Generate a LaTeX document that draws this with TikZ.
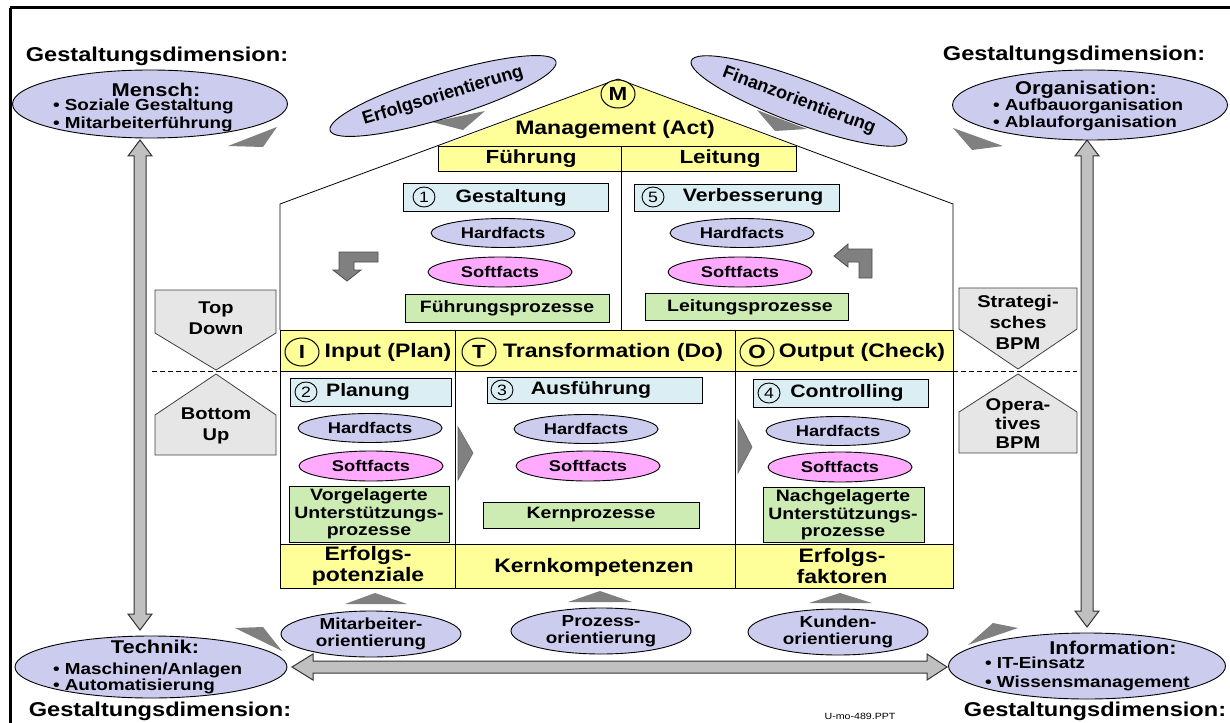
\documentclass[tikz,border=0pt]{standalone}
\usepackage{fontspec}
\setmainfont{Liberation Sans}[FakeStretch=1.18]
\newfontfamily\rotfont{Liberation Sans}
\usetikzlibrary{shapes.geometric}
\definecolor{lavc}{RGB}{204,204,238}
\definecolor{pinkc}{RGB}{255,170,255}
\definecolor{bluec}{RGB}{219,238,243}
\definecolor{greenc}{RGB}{204,236,180}
\definecolor{yellowc}{RGB}{255,255,153}
\definecolor{hourc}{RGB}{230,230,230}
\definecolor{arrg}{RGB}{192,192,192}
\definecolor{darkg}{RGB}{128,128,128}
\newcommand\fsz[2]{\fontsize{#1}{#2}\selectfont\bfseries}
\begin{document}
\begin{tikzpicture}[x=1pt,y=-1pt,
  every node/.style={inner sep=0pt,outer sep=0pt},
  lavell/.style={ellipse,draw=black,line width=0.9pt,fill=lavc},
  hard/.style={lavell,minimum width=144,minimum height=29,font=\fsz{15.5}{17}},
  soft/.style={ellipse,draw=black,line width=0.9pt,fill=pinkc,minimum width=144,minimum height=30,font=\fsz{15.5}{17}},
  numbox/.style={draw=black,line width=1pt,fill=bluec,anchor=north west},
  numtext/.style={font=\fsz{18}{20}},
  numc/.style={ellipse,draw=black,line width=0.9pt,minimum width=22,minimum height=20,font=\fontsize{15}{15}\selectfont},
  procbox/.style={draw=black,line width=1pt,fill=greenc,anchor=north west},
  proctext/.style={font=\fsz{16.5}{17.5},align=center},
  ipoc/.style={ellipse,draw=black,line width=1pt,fill=yellowc,minimum width=34,minimum height=28,font=\fsz{19}{20}},
  bandtext/.style={font=\fsz{19.5}{20.5},align=center},
  tri/.style={fill=darkg},
  dimtitle/.style={font=\fsz{20}{22}},
  dimhead/.style={font=\fsz{18.5}{20}},
  dimitem/.style={font=\fsz{16}{18}},
  hour/.style={fill=hourc,draw=black!75,line width=0.8pt},
  hourtext/.style={font=\fsz{17}{21},align=center},
  blockarrow/.style={fill=arrg,draw=black!80,line width=1pt},
  lshape/.style={fill=darkg,draw=black!70,line width=0.8pt},
  orient/.style={lavell,minimum width=180,minimum height=46,font=\fsz{16}{17},align=center},
  rotell/.style={lavell,minimum width=232,minimum height=44,font=\rotfont\fontsize{18}{19}\selectfont\bfseries}
]
\useasboundingbox (0,0) rectangle (1230,722);
\fill[white] (0,0) rectangle (1230,722);
\draw[line width=3pt] (10,8) -- (1240,8);
\draw[line width=3pt] (10,8) -- (10,740);

% ---------- block double arrows ----------
\filldraw[blockarrow] (140,140) -- (152,156) -- (146,156) -- (146,614) -- (152,614) -- (140,630)
  -- (128,614) -- (134,614) -- (134,156) -- (128,156) -- cycle;
\filldraw[blockarrow] (1087,140) -- (1099,156) -- (1093,156) -- (1093,611) -- (1099,611) -- (1087,627)
  -- (1075,611) -- (1081,611) -- (1081,156) -- (1075,156) -- cycle;
\filldraw[blockarrow] (292,667) -- (313,654) -- (313,661) -- (927,661) -- (927,654) -- (947,667)
  -- (927,680) -- (927,673) -- (313,673) -- (313,680) -- cycle;

% ---------- dimension titles ----------
\node[dimtitle] (gd1) at (157,56) {Gestaltungsdimension:};
\node[dimtitle] (gd2) at (1074,55) {Gestaltungsdimension:};
\node[dimtitle] (gd3) at (160,711) {Gestaltungsdimension:};
\node[dimtitle] (gd4) at (1095,711) {Gestaltungsdimension:};

% ---------- dimension ellipses ----------
\node[lavell,minimum width=275,minimum height=68] (mensch) at (150,104) {};
\node[dimhead] (menscht) at (156,90) {Mensch:};
\node[dimitem,anchor=base west] (mensch1) at (53,111) {• Soziale Gestaltung};
\node[dimitem,anchor=base west] (mensch2) at (53,129) {• Mitarbeiterführung};

\node[lavell,minimum width=275,minimum height=70] (orga) at (1090,105) {};
\node[dimhead] (orgat) at (1086,90) {Organisation:};
\node[dimitem,anchor=base west] (orga1) at (993,111) {• Aufbauorganisation};
\node[dimitem,anchor=base west] (orga2) at (993,128) {• Ablauforganisation};

\node[lavell,minimum width=272,minimum height=62] (technik) at (151,667) {};
\node[dimhead] (techt) at (155,647) {Technik:};
\node[dimitem,anchor=base west] (tech1) at (53,674) {• Maschinen/Anlagen};
\node[dimitem,anchor=base west] (tech2) at (53,690) {• Automatisierung};

\node[lavell,minimum width=277,minimum height=66] (info) at (1087,666) {};
\node[dimhead] (infot) at (1113,648) {Information:};
\node[dimitem,anchor=base west] (info1) at (985,668) {• IT-Einsatz};
\node[dimitem,anchor=base west] (info2) at (985,687) {• Wissensmanagement};

% ---------- small dark wedges ----------
\fill[tri] (228,146) -- (277,127) -- (263,147) -- cycle;
\fill[tri] (953,128) -- (1003,146) -- (972,150) -- cycle;
\fill[tri] (235,628) -- (263,627) -- (282,651) -- cycle;
\fill[tri] (968,645) -- (993,623) -- (1018,628) -- cycle;
\fill[tri] (432,122) -- (485,111) -- (463,130) -- cycle;
\fill[tri] (757,110) -- (807,129) -- (775,131) -- cycle;

% ---------- rotated orientation ellipses ----------
\node[rotell,rotate=17] (erfolg) at (443,96) {Erfolgsorientierung};
\node[rotell,minimum width=230,rotate=-20.5] (finanz) at (799,101) {Finanzorientierung};

% ---------- roof ----------
\fill[yellowc] (438,147) -- (618,79) -- (797,147) -- cycle;
\draw[line width=0.8pt] (280,330) -- (280,204) -- (618,79) -- (953,204) -- (953,330);
\node[draw=black,line width=1pt,fill=yellowc,minimum width=358,minimum height=25,anchor=north west] (flbox) at (438,147) {};
\draw[line width=0.8pt] (621,147) -- (621,330);
\node[font=\fsz{19}{20}] (fuehr) at (531,159) {Führung};
\node[font=\fsz{19}{20}] (leit) at (720,159) {Leitung};
\node[ipoc] (mc) at (618,94) {M};
\node[font=\fsz{19.5}{20}] (mgmt) at (615,130) {Management (Act)};

% upper section left
\node[numbox,minimum width=205,minimum height=28] (gbox) at (403,183) {};
\node[numc] (n1) at (424,197) {1};
\node[numtext] (gest) at (511,198) {Gestaltung};
\node[hard] (h1) at (503,233) {Hardfacts};
\node[soft] (s1) at (500,272) {Softfacts};
\node[procbox,minimum width=204,minimum height=28] (fpbox) at (405,294) {};
\node[proctext] (fp) at (507,308) {Führungsprozesse};
\filldraw[lshape] (378,252) -- (339,252) -- (339,270) -- (333,270) -- (347,281) -- (361,270) -- (354,270) -- (354,262) -- (378,262) -- cycle;

% upper section right
\node[numbox,minimum width=205,minimum height=27] (vbox) at (634,184) {};
\node[numc] (n5) at (653,197) {5};
\node[numtext] (verb) at (753,197) {Verbesserung};
\node[hard] (h5) at (742,233) {Hardfacts};
\node[soft] (s5) at (740,272) {Softfacts};
\node[procbox,minimum width=203,minimum height=27] (lpbox) at (645,293) {};
\node[proctext] (lp) at (750,307) {Leitungsprozesse};
\filldraw[lshape] (872,278) -- (872,249) -- (848,249) -- (848,244) -- (834,256) -- (848,267) -- (848,262) -- (859,262) -- (859,278) -- cycle;

% ---------- lower body ----------
\fill[yellowc] (280,330) rectangle (953,371);
\fill[yellowc] (280,544) rectangle (953,588);
\draw[line width=1pt] (280,330) rectangle (953,588);
\draw[line width=1pt] (280,371) -- (953,371);
\draw[line width=1pt] (280,544) -- (953,544);
\draw[line width=1pt] (455,330) -- (455,588);
\draw[line width=1pt] (735,330) -- (735,588);
\draw[line width=0.8pt,dash pattern=on 5pt off 3pt] (152,371) -- (280,371);
\draw[line width=0.8pt,dash pattern=on 5pt off 3pt] (953,371) -- (1077,371);

\node[ipoc] (ci) at (302,352) {I};
\node[bandtext] (inp) at (388,352) {Input (Plan)};
\node[ipoc] (ct) at (479,352) {T};
\node[bandtext] (trf) at (613,352) {Transformation (Do)};
\node[ipoc] (co) at (757,352) {O};
\node[bandtext] (outp) at (862,352) {Output (Check)};

% column I
\node[numbox,minimum width=161,minimum height=28] (pbox) at (290,378) {};
\node[numc] (n2) at (306,392) {2};
\node[numtext] (plan) at (368,392) {Planung};
\node[hard] (h2) at (370,428) {Hardfacts};
\node[soft] (s2) at (371,466) {Softfacts};
\node[procbox,minimum width=160,minimum height=56] (vgbox) at (289,486) {};
\node[proctext] (vg) at (369,514) {Vorgelagerte\\Unterstützungs-\\prozesse};
\filldraw[fill=darkg,draw=black!60,line width=0.6pt] (458,427) -- (473,453) -- (458,480) -- cycle;

% column T
\node[numbox,minimum width=215,minimum height=26] (abox) at (487,377) {};
\node[numc] (n3) at (502,390) {3};
\node[numtext] (ausf) at (591,390) {Ausführung};
\node[hard] (h3) at (586,429) {Hardfacts};
\node[soft] (s3) at (588,466) {Softfacts};
\node[procbox,minimum width=216,minimum height=26] (kpbox) at (483,502) {};
\node[proctext] (kp) at (591,515) {Kernprozesse};
\filldraw[fill=darkg,draw=black!60,line width=0.6pt] (738,420) -- (752,447) -- (738,473) -- cycle;

% column O
\node[numbox,minimum width=175,minimum height=28] (cbox) at (753,379) {};
\node[numc] (n4) at (769,393) {4};
\node[numtext] (contr) at (847,393) {Controlling};
\node[hard] (h4) at (838,431) {Hardfacts};
\node[soft] (s4) at (840,467) {Softfacts};
\node[procbox,minimum width=161,minimum height=55] (ngbox) at (763,487) {};
\node[proctext] (ng) at (843,515) {Nachgelagerte\\Unterstützungs-\\prozesse};

% bottom band
\node[bandtext] (erfp) at (368,566) {Erfolgs-\\potenziale};
\node[bandtext] (kk) at (594,567) {Kernkompetenzen};
\node[bandtext] (erff) at (842,566) {Erfolgs-\\faktoren};

% ---------- hourglasses ----------
\filldraw[hour] (155,290) -- (276,290) -- (276,333) -- (216,370) -- (155,333) -- cycle;
\filldraw[hour] (216,374) -- (276,415) -- (276,455) -- (155,455) -- (155,415) -- cycle;
\node[hourtext] (td) at (216,318) {Top\\Down};
\node[hourtext] (bu) at (216,426) {Bottom\\Up};
\filldraw[hour] (959,288) -- (1077,288) -- (1077,329) -- (1018,369) -- (959,329) -- cycle;
\filldraw[hour] (1018,374) -- (1077,412) -- (1077,453) -- (959,453) -- (959,412) -- cycle;
\node[hourtext] (sb) at (1018,322) {Strategi-\\sches\\BPM};
\node[hourtext,font=\fsz{17}{19}] (ob) at (1018,424) {Opera-\\tives\\BPM};

% ---------- bottom orientation ----------
\fill[tri] (345,604) -- (375,593) -- (407,604) -- cycle;
\fill[tri] (568,602) -- (600,591) -- (632,602) -- cycle;
\fill[tri] (809,603) -- (840,593) -- (872,603) -- cycle;
\node[orient] (mo) at (371,634) {Mitarbeiter-\\orientierung};
\node[orient] (po) at (601,631) {Prozess-\\orientierung};
\node[orient] (ko) at (838,632) {Kunden-\\orientierung};

\node[font=\fontsize{9}{9}\selectfont] (ref) at (860,716) {U-mo-489.PPT};
\end{tikzpicture}
\end{document}
